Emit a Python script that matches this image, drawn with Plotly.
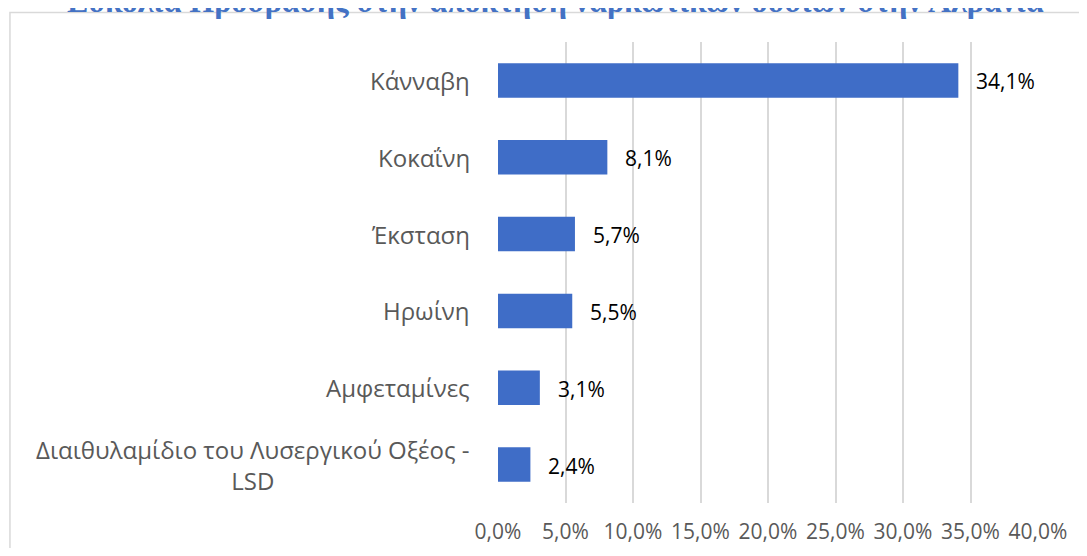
import plotly.graph_objects as go

categories = ["Κάνναβη", "Κοκαΐνη", "Έκσταση", "Ηρωίνη", "Αμφεταμίνες",
              "Διαιθυλαμίδιο του Λυσεργικού Οξέος -<br>LSD"]
values = [34.1, 8.1, 5.7, 5.5, 3.1, 2.4]
x_ticks = [0, 5, 10, 15, 20, 25, 30, 35, 40]
title_text = "Ευκολία Πρόσβασης στην απόκτηση ναρκωτικών ουσιών στην Αλβανία"

# page has an 8px body margin; figure coordinates = screen - 8
W, H = 1071, 540
L, R, T, B = 489.5, 41, 34, 45
ph = H - T - B
pw = W - L - R

fig = go.Figure()
fig.add_trace(go.Bar(
    x=values, y=categories, orientation="h",
    marker=dict(color="#3f6dc7", line=dict(width=0)),
    width=0.45, hoverinfo="skip",
))

annotations = []
for c, v in zip(categories, values):
    annotations.append(dict(
        x=v, y=c, xref="x", yref="y", text=f"{v:.1f}%".replace(".", ","),
        showarrow=False, xanchor="left", yanchor="middle", xshift=16, yshift=-1,
        font=dict(family="Open Sans", size=21, color="#000000"),
    ))
    annotations.append(dict(
        x=(463 - L) / pw, y=c, xref="paper", yref="y", text=c,
        showarrow=False, xanchor="right", yanchor="middle", align="center",
        font=dict(family="Open Sans", size=24, color="#595959"),
    ))

annotations.append(dict(
    x=(547 - L) / pw, y=1 + (T - 13) / ph, xref="paper", yref="paper",
    text=f"<b>{title_text}</b>", showarrow=False, xanchor="center", yanchor="bottom",
    font=dict(family="Liberation Serif", size=32, color="#4472C4"),
))

fig.update_layout(
    width=W, height=H,
    margin=dict(l=L, r=R, t=T, b=B, pad=0, autoexpand=False),
    paper_bgcolor="white", plot_bgcolor="white",
    separators=",.",
    showlegend=False,
    bargap=0.55,
    xaxis=dict(
        range=[0, 40], tickvals=x_ticks, ticktext=[f"{t:.1f}%".replace(".", ",") for t in x_ticks],
        showgrid=True, gridcolor="#d9d9d9", gridwidth=1.5, zeroline=False,
        showline=False, ticks="", ticklen=0, ticklabelstandoff=14,
        tickfont=dict(family="Open Sans", size=21, color="#595959"),
        fixedrange=True, automargin=False,
    ),
    yaxis=dict(
        categoryorder="array", categoryarray=categories, autorange="reversed",
        showticklabels=False, showgrid=False, zeroline=False, showline=False,
        ticks="", fixedrange=True, automargin=False,
    ),
    annotations=annotations,
    shapes=[dict(
        type="rect", xref="paper", yref="paper",
        x0=(1 - L) / pw, x1=(W + 30 - L) / pw,
        y0=-(B + 30) / ph, y1=1 + (T - 4.5) / ph,
        line=dict(color="#d9d9d9", width=1.5), fillcolor="rgba(0,0,0,0)",
        layer="below",
    )],
)

fig.write_html("out.html")
